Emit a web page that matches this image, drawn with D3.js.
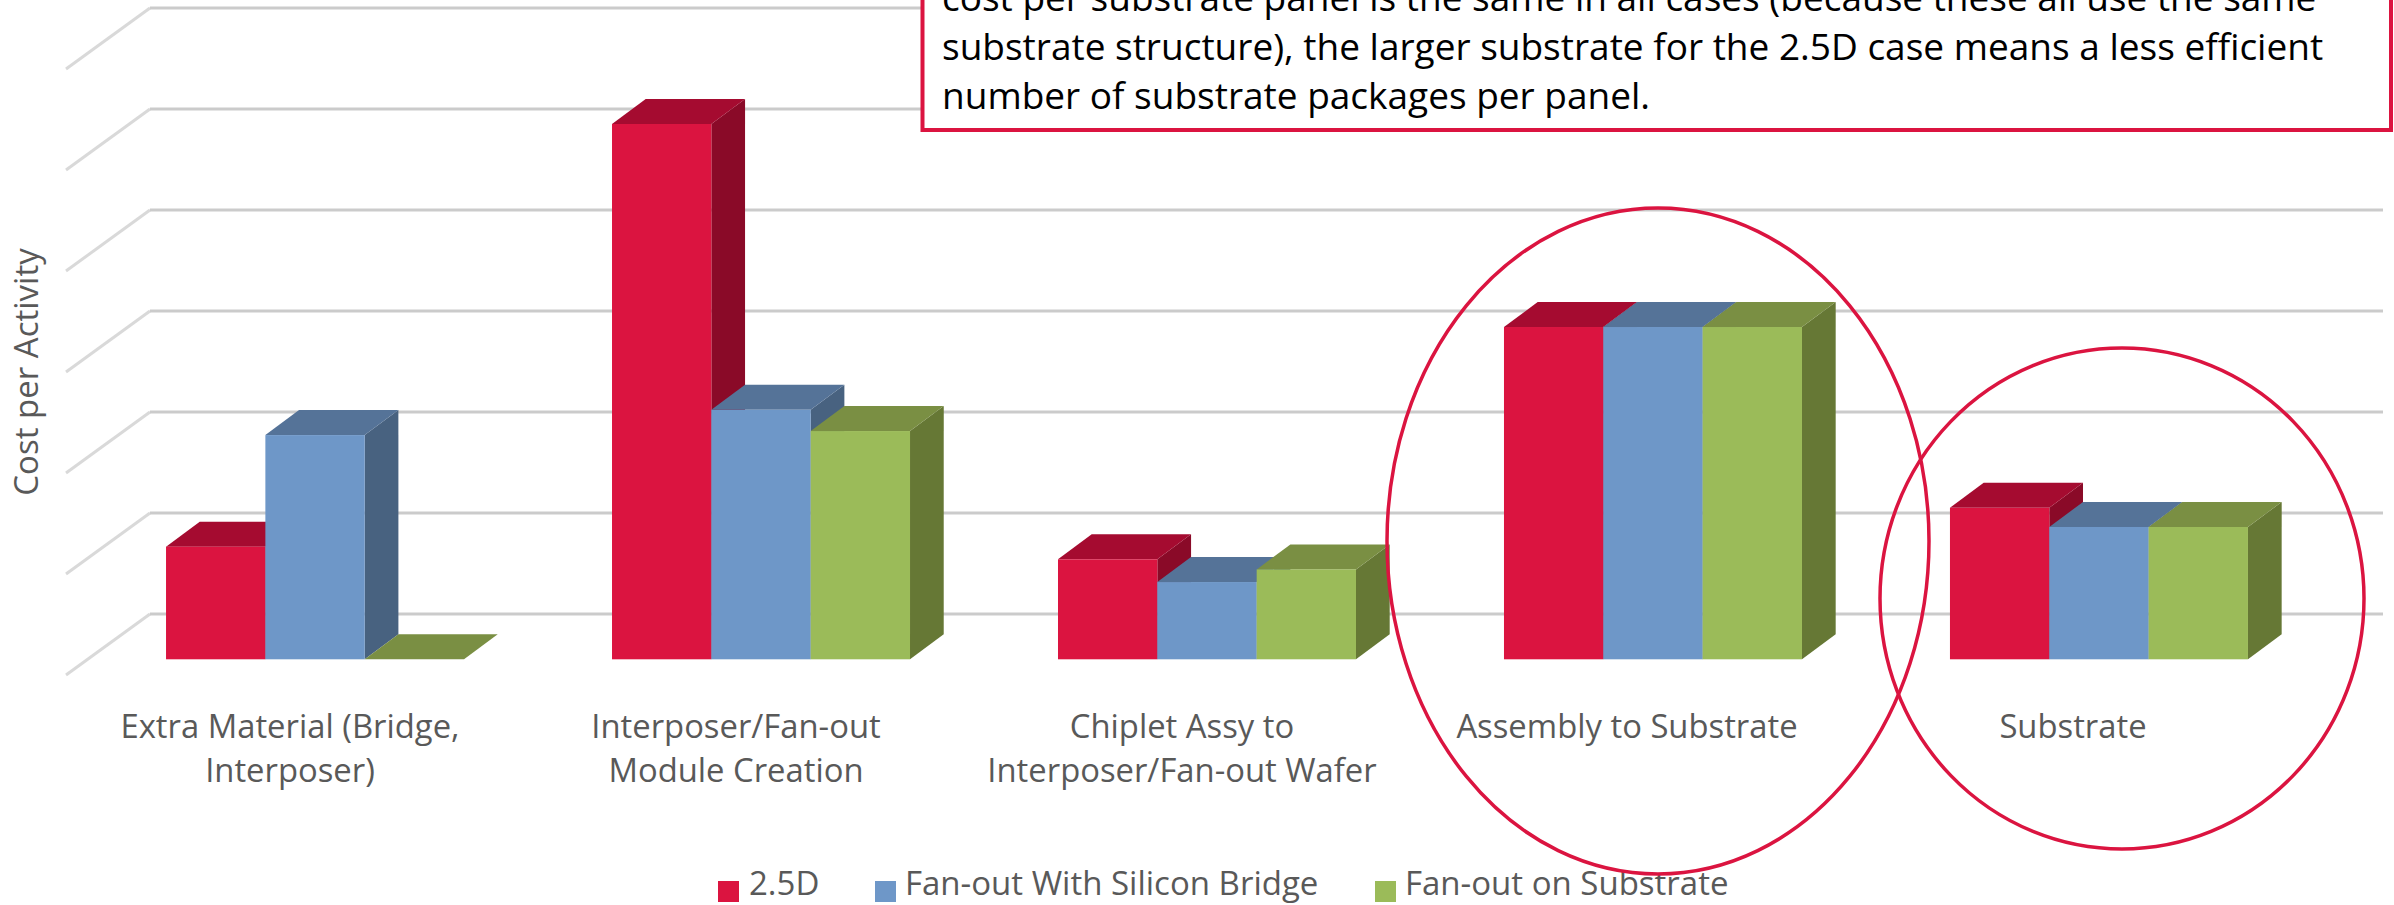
<!DOCTYPE html>
<html>
<head>
<meta charset="utf-8">
<script src="https://cdn.jsdelivr.net/npm/d3@7"></script>
<style>
html,body{margin:0;padding:0;background:#fff;overflow:hidden}
svg{display:block}
text{font-family:"Open Sans",sans-serif}
</style>
</head>
<body>
<script>
const categories = [
  ["Extra Material (Bridge,", "Interposer)"],
  ["Interposer/Fan-out", "Module Creation"],
  ["Chiplet Assy to", "Interposer/Fan-out Wafer"],
  ["Assembly to Substrate"],
  ["Substrate"]
];
const seriesNames = ["2.5D", "Fan-out With Silicon Bridge", "Fan-out on Substrate"];
const values25D = [1.115, 5.30, 0.99, 3.29, 1.50];
const valuesBridge = [2.22, 2.47, 0.765, 3.29, 1.31];
const valuesSubstrate = [0, 2.26, 0.89, 3.29, 1.31];
const gridValues = [0, 1, 2, 3, 4, 5, 6];
const noteLines = [
  "cost per substrate panel is the same in all cases (because these all use the same",
  "substrate structure), the larger substrate for the 2.5D case means a less efficient",
  "number of substrate packages per panel."
];

const W = 2394, H = 905;
const palette = [
  {front:"#DB1440", top:"#A50B30", side:"#8A0A28"},
  {front:"#6E97C8", top:"#557398", side:"#486280"},
  {front:"#9BBB59", top:"#7A8F43", side:"#667835"}
];
const seriesValues = [values25D, valuesBridge, valuesSubstrate];

const svg = d3.select("body").append("svg").attr("width", W).attr("height", H);

// Height of a value above the floor, in pixels.
const heightScale = d3.scaleLinear().domain([0, 6]).range([0, 606]);
// Category bands along the front plane of the bars.
const band = d3.scaleBand().domain(d3.range(categories.length)).range([92, 2322]).paddingInner(0.3318).paddingOuter(0.166);
const barW = band.bandwidth() / 3;

// Back wall and left wall gridlines.
const floorBack = 614, wallX0 = 150, wallX1 = 2383, frontX = 66, wallDrop = 61;
const grid = svg.append("g").attr("fill", "none").attr("stroke-width", 3);
grid.selectAll("path.wall").data(gridValues).join("path").attr("class", "wall")
  .attr("stroke", "#D9D9D9")
  .attr("d", d => {
    const y = floorBack - heightScale(d);
    return d3.line()([[frontX, y + wallDrop], [wallX0, y]]);
  });
grid.selectAll("path.back").data(gridValues).join("path").attr("class", "back")
  .attr("stroke", "#CBCBCB")
  .attr("d", d => {
    const y = floorBack - heightScale(d);
    return d3.line()([[wallX0, y], [wallX1, y]]);
  });

// Bars in painter's order: each one covers the side face of its left neighbour.
const baseY = 659.3, depthX = 33.7, depthY = 25;
const poly = d3.line().curve(d3.curveLinearClosed);
const bars = svg.append("g");
categories.forEach((c, ci) => {
  seriesValues.forEach((vals, si) => {
    const x0 = band(ci) + si * barW, x1 = x0 + barW;
    const h = heightScale(vals[ci]), yT = baseY - h;
    const col = palette[si];
    const g = bars.append("g");
    g.append("path").attr("fill", col.side)
      .attr("d", poly([[x1, yT], [x1 + depthX, yT - depthY], [x1 + depthX, baseY - depthY], [x1, baseY]]));
    g.append("path").attr("fill", col.top)
      .attr("d", poly([[x0, yT], [x0 + depthX, yT - depthY], [x1 + depthX, yT - depthY], [x1, yT]]));
    g.append("rect").attr("x", x0).attr("y", yT).attr("width", barW).attr("height", h).attr("fill", col.front);
  });
});

// Category labels
const labelG = svg.append("g").attr("fill", "#595959").attr("font-size", 32.8).attr("text-anchor", "middle");
const labelCx = [290, 736, 1182, 1627, 2073];
categories.forEach((lines, i) => {
  lines.forEach((t, j) => {
    labelG.append("text").attr("x", labelCx[i]).attr("y", 738 + j * 44).text(t);
  });
});

// Axis title
svg.append("text").attr("transform", "translate(38,372) rotate(-90)")
  .attr("text-anchor", "middle").attr("font-size", 33).attr("fill", "#595959").text("Cost per Activity");

// Legend
const legendSwatchX = [718, 875, 1375], legendTextX = [749, 905, 1405];
const legend = svg.append("g");
seriesNames.forEach((n, i) => {
  legend.append("rect").attr("x", legendSwatchX[i]).attr("y", 881).attr("width", 21).attr("height", 21).attr("fill", palette[i].front);
  legend.append("text").attr("x", legendTextX[i]).attr("y", 895).attr("font-size", 33).attr("fill", "#595959").text(n);
});

// Highlight ellipses around the last two categories
const rings = [
  {cx: 1658, cy: 541, rx: 271, ry: 333},
  {cx: 2122, cy: 598.5, rx: 242, ry: 250.5}
];
svg.append("g").selectAll("ellipse").data(rings).join("ellipse")
  .attr("cx", d => d.cx).attr("cy", d => d.cy).attr("rx", d => d.rx).attr("ry", d => d.ry)
  .attr("fill", "none").attr("stroke", "#DB1440").attr("stroke-width", 3.5);

// Callout box running off the top of the page
svg.append("rect").attr("x", 922.5).attr("y", -60).attr("width", 1468.5).attr("height", 190)
  .attr("fill", "#fff").attr("stroke", "#DB1440").attr("stroke-width", 4);
const note = svg.append("g").attr("fill", "#000").attr("font-size", 37);
noteLines.forEach((t, i) => {
  note.append("text").attr("x", 942).attr("y", 11 + i * 49).text(t);
});
</script>
</body>
</html>
